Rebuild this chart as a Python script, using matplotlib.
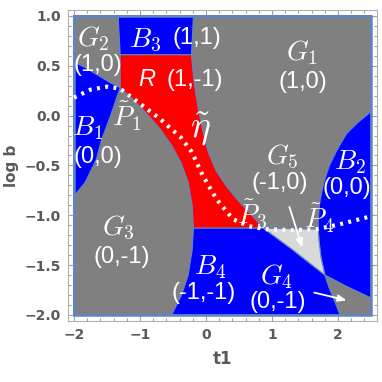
import matplotlib.pyplot as plt
from matplotlib.patches import Polygon
from matplotlib.ticker import MultipleLocator

plt.rcParams['mathtext.fontset'] = 'cm'

# boundary curves (t1, log b)
b3_poly = [(-1.33, 1.0), (-0.19, 1.0), (-0.22, 0.61), (-1.30, 0.61)]
red_right = [(-0.22, 0.61), (-0.18, 0.33), (-0.12, 0.08), (-0.05, -0.15), (0.03, -0.36),
             (0.15, -0.55), (0.30, -0.70), (0.47, -0.84), (0.72, -1.02), (0.87, -1.13)]
arc_a = [(-1.30, 0.28), (-1.10, 0.16), (-0.90, 0.02), (-0.70, -0.13), (-0.52, -0.30),
         (-0.38, -0.47), (-0.27, -0.67), (-0.21, -0.90), (-0.19, -1.13), (-0.21, -1.35),
         (-0.27, -1.60), (-0.37, -1.80), (-0.52, -2.0)]
b1_top = [(-2.0, 0.54), (-1.80, 0.47), (-1.60, 0.39), (-1.45, 0.33), (-1.30, 0.28)]
b1_right = [(-1.30, 0.28), (-1.45, -0.01), (-1.58, -0.24), (-1.66, -0.44),
            (-1.83, -0.67), (-2.0, -0.81)]
b2_arc = [(2.5, 0.04), (2.30, -0.07), (2.13, -0.18), (1.98, -0.35), (1.87, -0.50),
          (1.78, -0.68), (1.72, -0.88), (1.70, -1.05), (1.70, -1.14), (1.71, -1.25),
          (1.74, -1.42), (1.80, -1.60), (1.86, -1.72), (1.94, -1.85), (2.03, -2.0)]
line_p3 = [(0.87, -1.13), (1.32, -1.35), (1.80, -1.60), (2.15, -1.72), (2.5, -1.83)]
eta_t = [-2.0, -1.75, -1.50, -1.30, -1.10, -0.90, -0.70, -0.55, -0.38, -0.22, -0.05,
         0.16, 0.41, 0.65, 0.90, 1.30, 1.68, 2.03, 2.5]
eta_b = [0.18, 0.26, 0.29, 0.27, 0.17, 0.07, -0.03, -0.12, -0.22, -0.36, -0.60,
         -0.84, -1.04, -1.11, -1.14, -1.15, -1.14, -1.09, -1.01]

math_labels = [(r'$G_2$', -1.71, 0.77), (r'$B_3$', -0.93, 0.76), (r'$G_1$', 1.45, 0.63),
               (r'$\tilde{P}_1$', -1.20, -0.01), (r'$B_1$', -1.80, -0.12),
               (r'$G_5$', 1.15, -0.42), (r'$B_2$', 2.18, -0.47), (r'$\tilde{P}_3$', 0.70, -0.98),
               (r'$\tilde{P}_4$', 1.72, -1.03), (r'$G_3$', -1.33, -1.13),
               (r'$B_4$', 0.06, -1.52), (r'$G_4$', 1.07, -1.62)]
tuple_labels = [('(1,0)', -1.64, 0.51), ('(1,1)', -0.14, 0.78), ('(1,-1)', -0.17, 0.36),
                ('(1,0)', 1.47, 0.34), ('(0,0)', -1.63, -0.42), ('(-1,0)', 1.12, -0.68),
                ('(0,0)', 2.14, -0.73), ('(0,-1)', -1.27, -1.42), ('(-1,-1)', -0.04, -1.78),
                ('(0,-1)', 1.09, -1.87)]
arrows = [((1.25, -0.89), (1.47, -1.35)), ((1.60, -1.77), (2.17, -1.86))]

gray = '#808080'
edge = '#5f86c2'

fig = plt.figure(figsize=(3.82, 3.82), dpi=100)
ax = fig.add_axes([0.178, 0.160, 0.809, 0.814])
ax.set_xlim(-2.09, 2.59)
ax.set_ylim(-2.06, 1.06)

ax.add_patch(Polygon([(-2, -2), (2.5, -2), (2.5, 1), (-2, 1)], fc=gray, ec=edge, lw=1.5, zorder=1))
ax.add_patch(Polygon(b3_poly, fc='#0000ff', ec=edge, lw=0.8, zorder=2))
red = [(-1.30, 0.61)] + red_right + [(-0.19, -1.13)] + arc_a[:9][::-1]
ax.add_patch(Polygon(red, fc='#ff0000', ec=edge, lw=0.8, zorder=2))
b1 = b1_top + b1_right[1:]
ax.add_patch(Polygon(b1, fc='#0000ff', ec=edge, lw=0.8, zorder=2))
b4 = [(-0.19, -1.13)] + line_p3[:3] + b2_arc[12:] + arc_a[8:][::-1]
ax.add_patch(Polygon(b4, fc='#0000ff', ec=edge, lw=0.8, zorder=2))
b2 = b2_arc[:12] + line_p3[3:]
ax.add_patch(Polygon(b2, fc='#0000ff', ec=edge, lw=0.8, zorder=2))
light = [(0.87, -1.13)] + b2_arc[8:12] + line_p3[1:2]
ax.add_patch(Polygon(light, fc='#d9d9d9', ec=edge, lw=0.8, zorder=2))
ax.add_patch(Polygon([(-2, -2), (2.5, -2), (2.5, 1), (-2, 1)], fc='none', ec=edge, lw=1.8, zorder=3))

ax.plot(eta_t, eta_b, color='white', lw=3, ls=(0, (0.7, 1.3)), dash_capstyle='butt', zorder=4)

for s, x, y in math_labels:
    ax.text(x, y, s, color='white', fontsize=20, ha='center', va='center', zorder=5)
ax.text(-0.08, -0.14, r'$\tilde{\eta}$', color='white', fontsize=27, ha='center', va='center', zorder=5)
for s, x, y in tuple_labels:
    ax.text(x, y, s, color='white', fontsize=17, family='Liberation Sans', ha='center', va='center', zorder=5)
ax.text(-0.90, 0.36, 'R', color='white', fontsize=17, family='Liberation Sans', style='italic',
        ha='center', va='center', zorder=5)
for (x0, y0), (x1, y1) in arrows:
    ax.annotate('', xy=(x1, y1), xytext=(x0, y0),
                arrowprops=dict(arrowstyle='-|>,head_length=0.5,head_width=0.2', color='white', lw=1.3),
                zorder=5)

ax.xaxis.set_major_locator(MultipleLocator(1))
ax.xaxis.set_minor_locator(MultipleLocator(0.2))
ax.yaxis.set_major_locator(MultipleLocator(0.5))
ax.yaxis.set_minor_locator(MultipleLocator(0.1))
ax.tick_params(which='both', direction='in', top=True, right=True, color='#a0a0a0', width=0.8)
ax.tick_params(which='major', length=5, labelsize=10, labelcolor='#5a5a5a', pad=5)
ax.tick_params(which='minor', length=2.5)
for lab in ax.get_xticklabels() + ax.get_yticklabels():
    lab.set_fontweight('bold')
for sp in ax.spines.values():
    sp.set_color('#b0b0b0')
ax.set_xlabel('t1', fontsize=12, fontweight='bold', color='#5a5a5a', labelpad=6)
ax.set_ylabel('log b', fontsize=11, fontweight='bold', color='#5a5a5a', labelpad=4)

fig.savefig('out.png', dpi=100)
